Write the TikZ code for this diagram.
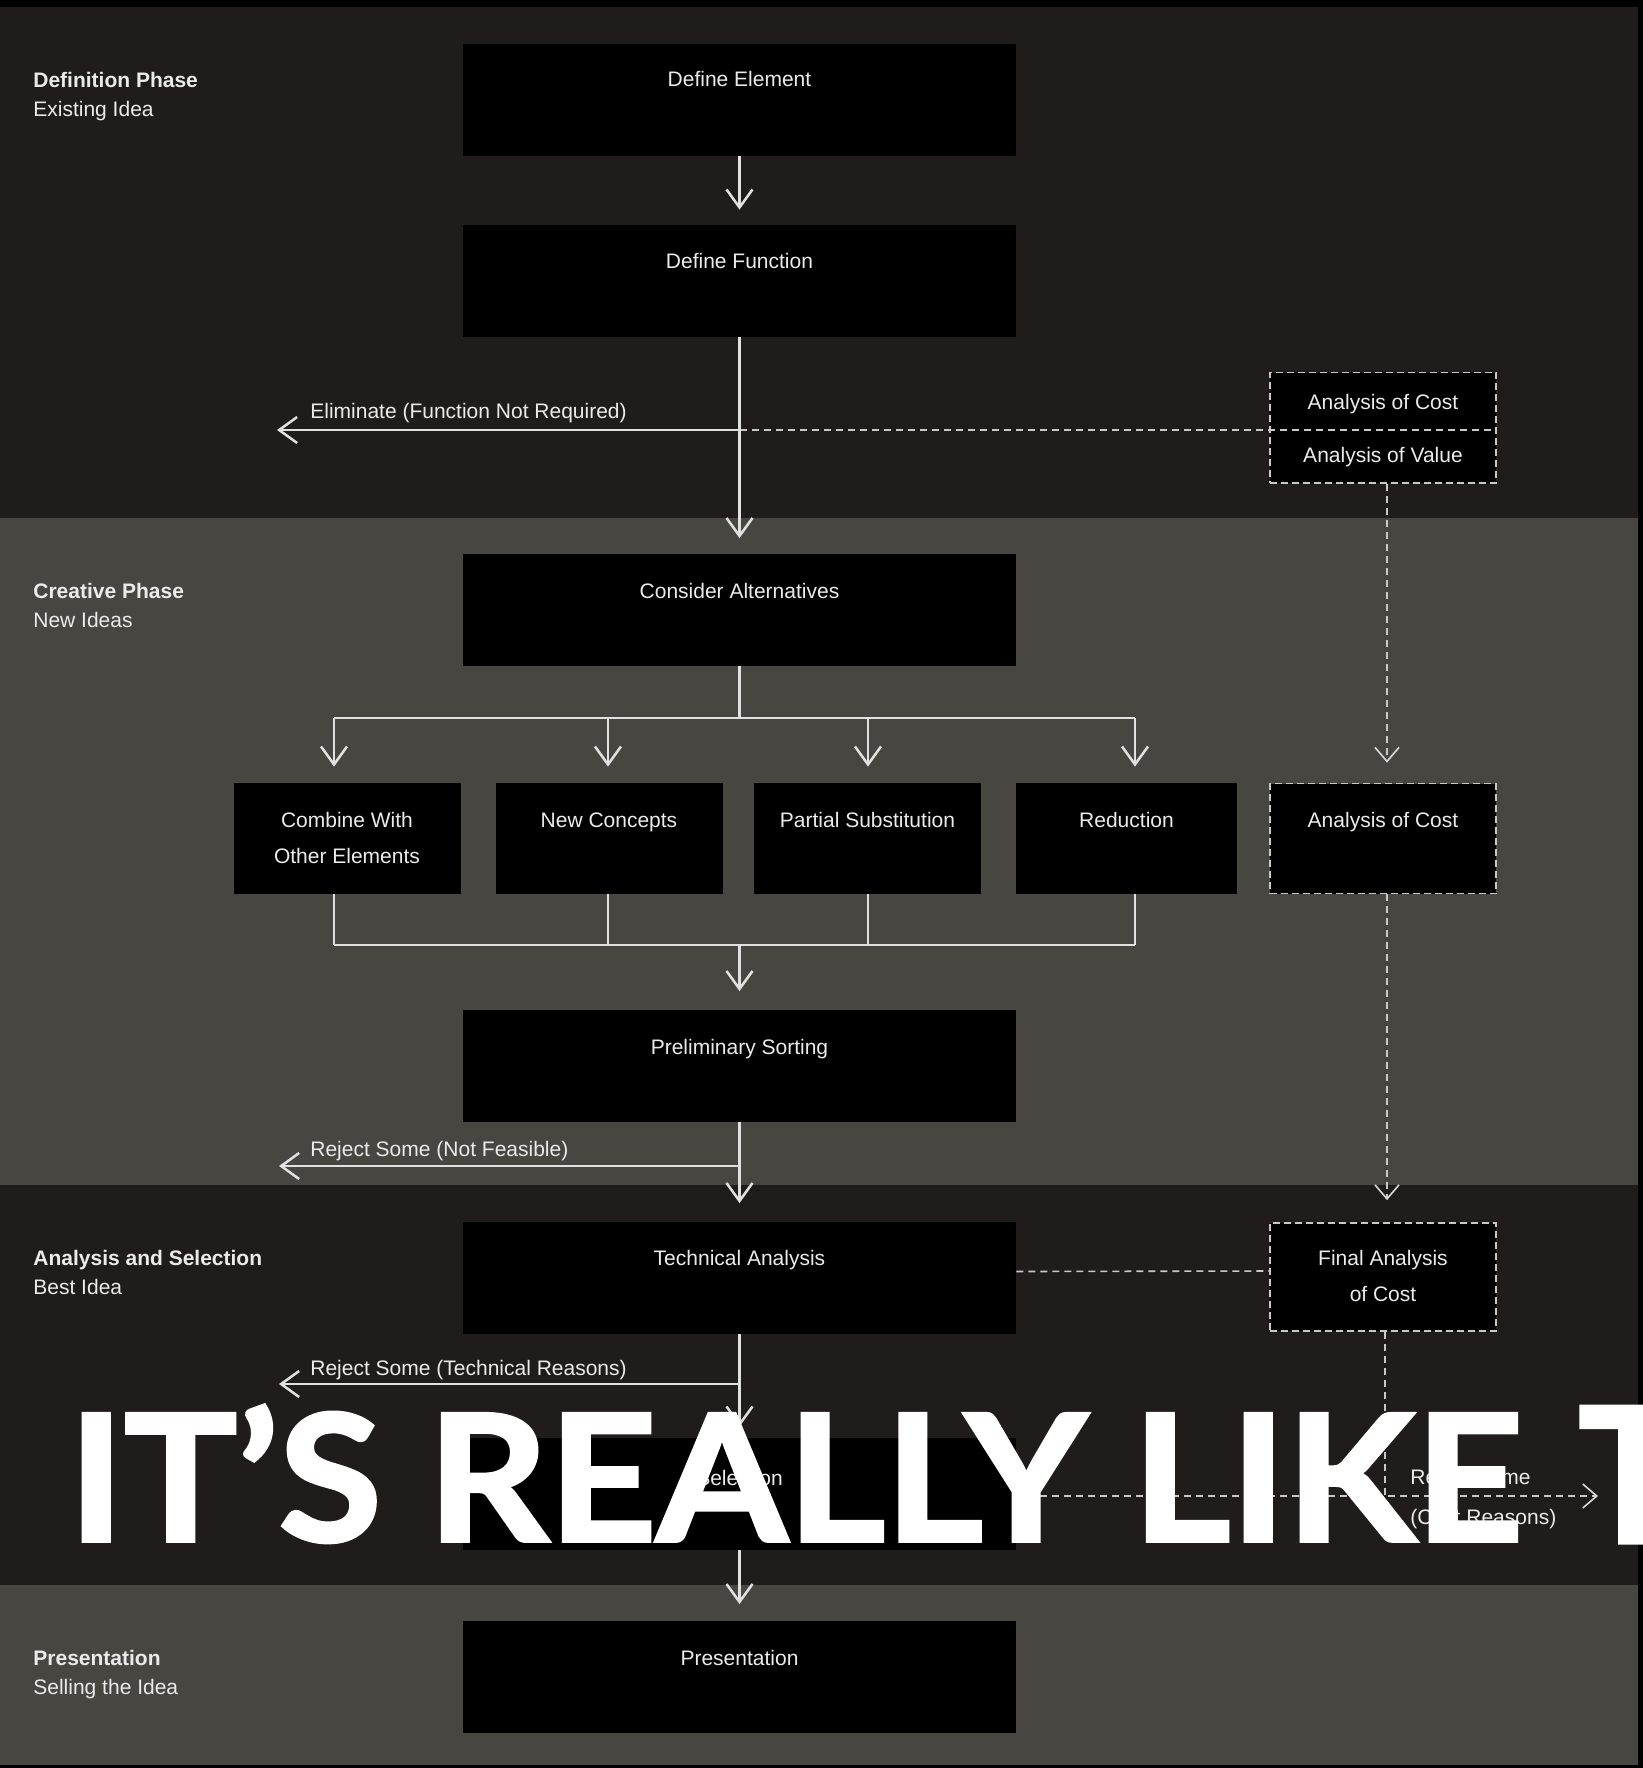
\documentclass[tikz,border=0pt]{standalone}
\usepackage{fontspec}
\setmainfont{Liberation Sans}
\newfontfamily\bigfont[FakeBold=2]{Lato}
\usetikzlibrary{arrows.meta}
\definecolor{darkbg}{RGB}{32,28,28}
\definecolor{graybg}{RGB}{71,70,65}
\definecolor{linecol}{RGB}{225,225,225}
\definecolor{dashcol}{RGB}{200,200,200}
\definecolor{txtcol}{RGB}{235,235,235}
\tikzset{
  mainbox/.style={fill=black, draw=none, minimum width=276.5pt, minimum height=56pt, inner sep=0pt},
  smallbox/.style={fill=black, draw=none, minimum width=113.5pt, minimum height=55.5pt, inner sep=0pt},
  dashbox/.style={fill=black, draw=dashcol, line width=0.9pt, dash pattern=on 3.5pt off 2pt, minimum width=113pt, minimum height=55pt, inner sep=0pt},
  txt/.style={text=txtcol, font=\fontsize{10.5}{12}\selectfont, inner sep=0pt, anchor=base},
  phase/.style={text=txtcol, font=\fontsize{10.5}{12}\selectfont\bfseries, inner sep=0pt, anchor=base west},
  phasesub/.style={text=txtcol, font=\fontsize{10.5}{12}\selectfont, inner sep=0pt, anchor=base west},
  wline/.style={draw=linecol, line width=1.25pt},
  conn/.style={wline, -{Straight Barb[length=9pt,width=13pt]}, shorten >=7.5pt},
  dline/.style={draw=dashcol, line width=0.8pt, dash pattern=on 3.5pt off 2.5pt},
  dconn/.style={dline, -{Straight Barb[length=7pt,width=12pt,color=dashcol!70]}},
  bigtxt/.style={text=white, inner sep=0pt, anchor=south west}
}
\begin{document}
\begin{tikzpicture}[x=0.5pt,y=-0.5pt]
\useasboundingbox (0,0) rectangle (1643,1768);
% backgrounds
\fill[black] (0,0) rectangle (1643,1768);
\fill[darkbg] (0,7) rectangle (1638,518);
\fill[graybg] (0,518) rectangle (1638,1185);
\fill[darkbg] (0,1185) rectangle (1638,1585);
\fill[graybg] (0,1585) rectangle (1638,1765);

% phase labels
\node[phase] (p1a) at (33,87) {Definition Phase};
\node[phasesub] (p1b) at (33,116) {Existing Idea};
\node[phase] (p2a) at (33,598.5) {Creative Phase};
\node[phasesub] (p2b) at (33,627.5) {New Ideas};
\node[phase] (p3a) at (33,1265.5) {Analysis and Selection};
\node[phasesub] (p3b) at (33,1294.5) {Best Idea};
\node[phase] (p4a) at (33,1665.5) {Presentation};
\node[phasesub] (p4b) at (33,1694.5) {Selling the Idea};

% main boxes
\node[mainbox] (de) at (739.5,100) {};
\node[mainbox] (df) at (739.5,281) {};
\node[mainbox] (ca) at (739.5,609.5) {};
\node[mainbox] (ps) at (739.5,1065.5) {};
\node[mainbox] (ta) at (739.5,1277.5) {};
\node[mainbox] (sel) at (739.5,1494) {};
\node[mainbox] (pres) at (739.5,1676.5) {};
\node[txt] (deT) at (739.5,86.5) {Define Element};
\node[txt] (dfT) at (739.5,268) {Define Function};
\node[txt] (caT) at (739.5,598.5) {Consider Alternatives};
\node[txt] (psT) at (739.5,1054.5) {Preliminary Sorting};
\node[txt] (taT) at (739.5,1265.5) {Technical Analysis};
\node[txt] (selT) at (739.5,1485.5) {Selection};
\node[txt] (presT) at (739.5,1665.5) {Presentation};

% alternative boxes
\node[smallbox] (cw) at (347,838.5) {};
\node[smallbox] (nc) at (609,838.5) {};
\node[smallbox] (pss) at (867.5,838.5) {};
\node[smallbox, minimum width=110.5pt] (red) at (1126.5,838.5) {};
\node[txt] (cwT1) at (347,827.5) {Combine With};
\node[txt] (cwT2) at (347,863.5) {Other Elements};
\node[txt] (ncT) at (609,827.5) {New Concepts};
\node[txt] (pssT) at (867.5,827.5) {Partial Substitution};
\node[txt] (redT) at (1126.5,827.5) {Reduction};

% dashed cost boxes
\node[dashbox, minimum height=55.25pt] (aov) at (1383,427.75) {};
\node[dashbox] (aoc) at (1383,838.5) {};
\node[dashbox, minimum height=54pt] (fa) at (1383,1277) {};
\node[txt] (aovT1) at (1383,409.5) {Analysis of Cost};
\node[txt] (aovT2) at (1383,462.5) {Analysis of Value};
\node[txt] (aocT) at (1383,827.5) {Analysis of Cost};
\node[txt] (faT1) at (1383,1265.5) {Final Analysis};
\node[txt] (faT2) at (1383,1301.5) {of Cost};

% coordinates
\coordinate (elimJ) at (739.5,430);
\coordinate (elimE) at (277,430);
\coordinate (dtop) at (739.5,718);
\coordinate (d1) at (334,718);
\coordinate (d2) at (608,718);
\coordinate (d3) at (868,718);
\coordinate (d4) at (1135,718);
\coordinate (b1) at (334,945);
\coordinate (b2) at (608,945);
\coordinate (b3) at (868,945);
\coordinate (b4) at (1135,945);
\coordinate (bmid) at (739.5,945);
\coordinate (rj1J) at (739.5,1166);
\coordinate (rj1E) at (279,1166);
\coordinate (rj2J) at (739.5,1384);
\coordinate (rj2E) at (279,1384);
\coordinate (cjoin) at (1385,1496);
\coordinate (rj3E) at (1598,1496);

% dashed connections
\draw[dline] (elimJ) -- (aov.east |- elimJ);
\draw[dconn, shorten >=10pt] ([xshift=2pt]aov.south) -- ([xshift=2pt]aoc.north);
\draw[dconn, shorten >=11pt] ([xshift=2pt]aoc.south) -- ([xshift=2pt]fa.north);
\draw[dline] ([yshift=3pt]ta.east) -- ([yshift=3pt]fa.west);
\draw[dline] ([xshift=1pt]fa.south) -- (cjoin);
\draw[dconn] (sel.east |- cjoin) -- (rj3E);

% main connections
\draw[conn] (de.south) -- (df.north);
\draw[conn] (df.south) -- (ca.north);
\draw[wline, -{Straight Barb[length=9pt,width=13pt]}] (elimJ) -- (elimE);
\draw[wline] (ca.south) -- (dtop);
\draw[wline] (d1) -- (d4);
\draw[conn, shorten >=8pt] (d1) -- (d1 |- cw.north);
\draw[conn, shorten >=8pt] (d2) -- (d2 |- nc.north);
\draw[conn, shorten >=8pt] (d3) -- (d3 |- pss.north);
\draw[conn, shorten >=8pt] (d4) -- (d4 |- red.north);
\draw[wline] (b1 |- cw.south) -- (b1);
\draw[wline] (b2 |- nc.south) -- (b2);
\draw[wline] (b3 |- pss.south) -- (b3);
\draw[wline] (b4 |- red.south) -- (b4);
\draw[wline] (b1) -- (b4);
\draw[conn, shorten >=9pt] (bmid) -- (ps.north);
\draw[conn, shorten >=9pt] (ps.south) -- (ta.north);
\draw[wline, -{Straight Barb[length=9pt,width=13pt]}] (rj1J) -- (rj1E);
\draw[conn, shorten >=5.5pt] (ta.south) -- (sel.north);
\draw[wline, -{Straight Barb[length=9pt,width=13pt]}] (rj2J) -- (rj2E);
\draw[conn, shorten >=8pt] (sel.south) -- (pres.north);

% connector labels
\node[txt, anchor=base west] (elimL) at (310,418.5) {Eliminate (Function Not Required)};
\node[txt, anchor=base west] (rj1L) at (310,1156.5) {Reject Some (Not Feasible)};
\node[txt, anchor=base west] (rj2L) at (310,1375.5) {Reject Some (Technical Reasons)};
\node[txt, anchor=base west] (rj3L1) at (1410,1484.5) {Reject Some};
\node[txt, anchor=base west] (rj3L2) at (1410,1524.5) {(Cost Reasons)};

% overlay caption
\node[bigtxt] (big1) at (68,1543) {\resizebox{727pt}{68pt}{\bigfont\bfseries IT’S REALLY LIKE}};
\node[bigtxt] (big2) at (1578,1543) {\resizebox{53.5pt}{68pt}{\bigfont\bfseries T}};
\end{tikzpicture}
\end{document}
